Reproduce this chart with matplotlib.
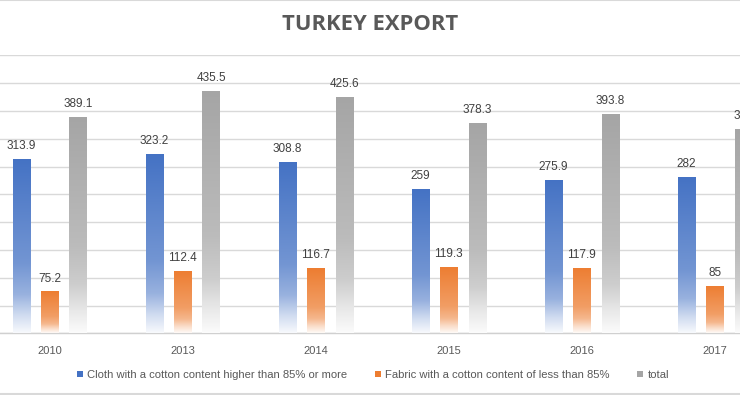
import numpy as np
import matplotlib
matplotlib.use("Agg")
import matplotlib.pyplot as plt
from matplotlib.colors import to_rgb
from matplotlib.lines import Line2D

years = ["2010", "2013", "2014", "2015", "2016", "2017"]
cloth = [313.9, 323.2, 308.8, 259, 275.9, 282]
fabric = [75.2, 112.4, 116.7, 119.3, 117.9, 85]
total = [389.1, 435.5, 425.6, 378.3, 393.8, 367]
series_names = ["Cloth with a cotton content higher than 85% or more",
                "Fabric with a cotton content of less than 85%",
                "total"]
series_colors = ["#4472C4", "#ED7D31", "#A5A5A5"]

fig = plt.figure(figsize=(7.4, 3.95), dpi=100)
ax = fig.add_axes([0, 0.1562, 1, 0.7038])

x = np.arange(len(years))
width = 0.128
offsets = [-0.214, 0, 0.214]

# gradient profile (fraction from top -> mix with white)
stops_t = [0.0, 0.6, 0.78, 0.9, 1.0]
stops_m = [0.0, 0.25, 0.45, 0.75, 0.96]
tt = np.linspace(0, 1, 256)
mix = np.interp(tt, stops_t, stops_m)

handles = []
for vals, off, col, name in zip([cloth, fabric, total], offsets, series_colors, series_names):
    bars = ax.bar(x + off, vals, width, color=col, linewidth=0, label=name, zorder=2)
    handles.append(bars)
    c = np.array(to_rgb(col))
    grad = c[None, :] * (1 - mix[:, None]) + np.ones(3)[None, :] * mix[:, None]
    img = grad[:, None, :]
    for b in bars:
        x0 = b.get_x()
        h = b.get_height()
        im = ax.imshow(img, extent=[x0, x0 + b.get_width(), 0, h], aspect="auto",
                       origin="upper", zorder=3, interpolation="bilinear")
        im.set_clip_path(b)
        ax.annotate(f"{b.get_height():g}", (x0 + b.get_width() / 2, h),
                    xytext=(0, 5), textcoords="offset points", ha="center", va="bottom",
                    fontsize=8.5, color="#404040", family="Liberation Sans", zorder=4,
                    annotation_clip=False)

ax.set_xlim(-0.372, 5.19)
ax.set_ylim(0, 500)
ax.set_yticks(np.arange(0, 501, 50))
ax.yaxis.grid(True, color="#D9D9D9", linewidth=1)
ax.set_axisbelow(True)
ax.set_xticks(x)
ax.set_xticklabels(years, fontsize=8, color="#595959", family="Liberation Sans")
ax.tick_params(axis="x", length=0, pad=9)
ax.tick_params(axis="y", length=0, labelleft=False)
for s in ["top", "left", "right"]:
    ax.spines[s].set_visible(False)
ax.spines["bottom"].set_color("#D0D0D0")
ax.spines["bottom"].set_linewidth(1)

fig.text(370 / 740, 1 - 25 / 395, "TURKEY EXPORT", ha="center", va="center",
         fontsize=15.8, fontweight="bold", color="#595959", family="Open Sans")

leg = fig.legend(handles=handles, loc="center", bbox_to_anchor=(373 / 740, 1 - 375 / 395),
                 ncol=3, frameon=False, handlelength=0.55, handleheight=0.55,
                 handletextpad=0.4, columnspacing=2.4,
                 prop={"family": "Liberation Sans", "size": 8.15})
for t in leg.get_texts():
    t.set_color("#595959")

# chart border lines (top and bottom) visible in the cropped image
fig.add_artist(Line2D([0, 1], [0.999, 0.999], transform=fig.transFigure, color="#D9D9D9", lw=1.5))
fig.add_artist(Line2D([0, 1], [0.002, 0.002], transform=fig.transFigure, color="#D9D9D9", lw=1.5))

fig.savefig("out.png", dpi=100)
